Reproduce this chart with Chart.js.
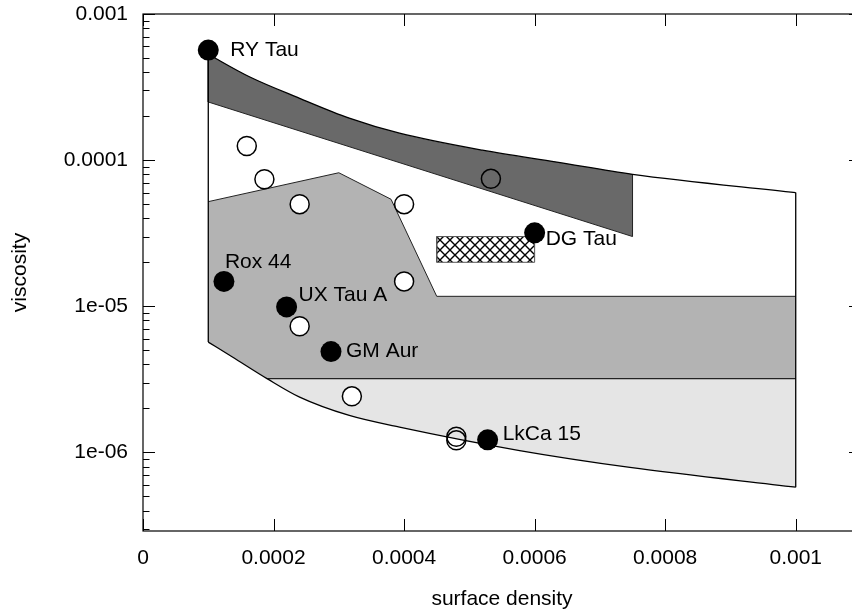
<!DOCTYPE html>
<html>
<head>
<meta charset="utf-8">
<script src="https://cdn.jsdelivr.net/npm/chart.js@4/dist/chart.umd.min.js"></script>
<style>
  html, body { margin: 0; padding: 0; background: #fff; overflow: hidden; }
  #wrap { width: 880px; height: 616px; }
</style>
</head>
<body>
<div id="wrap"><canvas id="chart" width="880" height="616"></canvas></div>
<script>
// ---- values ----
const xTicks = [0, 0.0002, 0.0004, 0.0006, 0.0008, 0.001];
const xTickLabels = ['0', '0.0002', '0.0004', '0.0006', '0.0008', '0.001'];
const yTicks = [1e-6, 1e-5, 1e-4, 1e-3];
const yTickLabels = ['1e-06', '1e-05', '0.0001', '0.001'];

// upper envelope of the allowed region
const upperX = [0.0001, 0.000163, 0.00024, 0.000316, 0.000393, 0.00052, 0.000634, 0.00075, 0.001];
const upperY = [5.3e-4, 3.72e-4, 2.65e-4, 1.94e-4, 1.53e-4, 1.17e-4, 9.7e-5, 8.0e-5, 6.0e-5];
// lower envelope
const lowerX = [0.0001, 0.000137, 0.00019, 0.00024, 0.000316, 0.000393, 0.000577, 0.000746, 0.001];
const lowerY = [5.69e-6, 4.5e-6, 3.2e-6, 2.39e-6, 1.79e-6, 1.49e-6, 1.03e-6, 7.9e-7, 5.78e-7];

// dark band corners (the upper envelope trims its top)
const bandX = [0.0001, 0.00075, 0.00075, 0.0001];
const bandY = [2.5e-4, 3.0e-5, 8.0e-5, 5.3e-4];

// medium grey region (closes along the lower envelope)
const midX = [0.0001, 0.0003, 0.00038, 0.00045, 0.001, 0.001, 0.00019, 0.0001];
const midY = [5.2e-5, 8.2e-5, 5.4e-5, 1.17e-5, 1.17e-5, 3.2e-6, 3.2e-6, 5.69e-6];

// light grey region (the lower envelope trims it)
const lightX = [0.00019, 0.001, 0.001, 0.00019];
const lightY = [3.2e-6, 3.2e-6, 5.78e-7, 5.78e-7];

// hatched box
const hatchX = [0.00045, 0.0006, 0.0006, 0.00045];
const hatchY = [2.0e-5, 2.0e-5, 3.0e-5, 3.0e-5];

// named objects (filled)
const starNames = ['RY Tau', 'Rox 44', 'UX Tau A', 'GM Aur', 'DG Tau', 'LkCa 15'];
const starX = [0.0001, 0.000124, 0.00022, 0.000288, 0.0006, 0.000528];
const starY = [5.66e-4, 1.48e-5, 9.9e-6, 4.9e-6, 3.18e-5, 1.22e-6];

// open circles
const openX = [0.000159, 0.000186, 0.00024, 0.0004, 0.0004, 0.00024, 0.00032];
const openY = [1.25e-4, 7.4e-5, 5.0e-5, 5.0e-5, 1.48e-5, 7.3e-6, 2.42e-6];
// open circles without fill
const hollowX = [0.000533, 0.00048, 0.00048];
const hollowY = [7.45e-5, 1.28e-6, 1.21e-6];

// label placement (pixels from the marker)
const labelOffsets = [[22, 0], [1, -19], [12, -12], [15, 0], [11, 6], [15, -6]];

const FONT = '"Liberation Sans", Arial, sans-serif';
const FSIZE = 21;

const pts = (xs, ys) => xs.map((x, i) => ({ x, y: ys[i] }));
const closed = arr => arr.concat([arr[0]]);

function makeHatch() {
  const n = 10;
  const c = document.createElement('canvas');
  c.width = n; c.height = n;
  const g = c.getContext('2d');
  g.fillStyle = '#fff';
  g.fillRect(0, 0, n, n);
  g.strokeStyle = '#000';
  g.lineWidth = 1.4;
  g.beginPath();
  g.moveTo(-1, -1); g.lineTo(n + 1, n + 1);
  g.moveTo(n + 1, -1); g.lineTo(-1, n + 1);
  g.stroke();
  return g.createPattern(c, 'repeat');
}

const region = (data, fill, border, width, order) => ({
  data, order,
  backgroundColor: fill,
  borderColor: border,
  borderWidth: width,
  fill: 'shape',
  pointRadius: 0,
  tension: 0
});

// smooth envelope; fills white on the outside to trim the grey shapes
const envelope = (data, side, order) => ({
  data, order,
  backgroundColor: '#fff',
  borderColor: '#000',
  borderWidth: 1.3,
  fill: side,
  pointRadius: 0,
  cubicInterpolationMode: 'monotone'
});

const edge = (data, color, width, order) => ({
  data, order,
  borderColor: color,
  borderWidth: width,
  fill: false,
  pointRadius: 0
});

// inward tick marks, frame and the object names
const decorPlugin = {
  id: 'decor',
  afterDatasetsDraw(chart) {
    const { ctx, chartArea: a, scales: { x, y } } = chart;
    ctx.save();
    ctx.strokeStyle = '#000';
    ctx.lineWidth = 1;
    ctx.beginPath();
    xTicks.forEach(v => {
      const px = Math.round(x.getPixelForValue(v)) + 0.5;
      ctx.moveTo(px, a.bottom); ctx.lineTo(px, a.bottom - 12);
      ctx.moveTo(px, a.top); ctx.lineTo(px, a.top + 12);
    });
    for (let e = -7; e <= -3; e++) {
      for (let m = 1; m <= 9; m++) {
        const v = m * Math.pow(10, e);
        if (v < y.min || v > y.max * 1.0001) continue;
        const len = m === 1 ? 12 : 6.5;
        const py = Math.round(y.getPixelForValue(v)) + 0.5;
        ctx.moveTo(a.left, py); ctx.lineTo(a.left + len, py);
        ctx.moveTo(a.right, py); ctx.lineTo(a.right - len, py);
      }
    }
    ctx.stroke();
    ctx.lineWidth = 1.2;
    ctx.strokeRect(a.left, a.top, a.right - a.left, a.bottom - a.top);

    ctx.fillStyle = '#000';
    ctx.font = FSIZE + 'px ' + FONT;
    ctx.textAlign = 'left';
    ctx.textBaseline = 'middle';
    starNames.forEach((name, i) => {
      const px = x.getPixelForValue(starX[i]) + labelOffsets[i][0];
      const py = y.getPixelForValue(starY[i]) + labelOffsets[i][1];
      ctx.fillText(name, px, py);
    });
    ctx.restore();
  }
};

const upper = pts(upperX, upperY);
const lower = pts(lowerX, lowerY);
const mid = pts(midX, midY);
const light = pts(lightX, lightY);

new Chart(document.getElementById('chart'), {
  type: 'line',
  data: {
    datasets: [
      region(closed(light), '#e5e5e5', 'rgba(0,0,0,0)', 0, 90),
      region(closed(mid), '#b3b3b3', 'rgba(0,0,0,0)', 0, 80),
      edge(mid.slice(0, 5), '#222', 1, 78),
      edge(light.slice(0, 2), '#222', 1.2, 78),
      region(closed(pts(bandX, bandY)), '#696969', '#222', 1, 70),
      envelope(upper, 'end', 60),
      envelope(lower, 'start', 55),
      edge([upper[0], lower[0]], '#000', 1.3, 50),
      edge([upper[upper.length - 1], lower[lower.length - 1]], '#000', 1.3, 50),
      region(closed(pts(hatchX, hatchY)), makeHatch(), '#555', 1, 40),
      {
        data: pts(openX, openY), order: 20, showLine: false,
        pointRadius: 9.5, pointBorderWidth: 1.5,
        pointBackgroundColor: '#fff', pointBorderColor: '#000'
      },
      {
        data: pts(hollowX, hollowY), order: 15, showLine: false,
        pointRadius: 9.5, pointBorderWidth: 1.5,
        pointBackgroundColor: 'rgba(0,0,0,0)', pointBorderColor: '#000'
      },
      {
        data: pts(starX, starY), order: 10, showLine: false,
        pointRadius: 10.5, pointBorderWidth: 0,
        pointBackgroundColor: '#000', pointBorderColor: '#000'
      }
    ]
  },
  options: {
    responsive: false,
    animation: false,
    events: [],
    layout: { padding: { top: 14, right: 19, left: 0, bottom: 0 } },
    plugins: { legend: { display: false }, tooltip: { enabled: false } },
    scales: {
      x: {
        type: 'linear',
        min: 0,
        max: 0.0011,
        afterFit: s => { s.height = 85; s.paddingLeft = 0; s.paddingRight = 0; },
        afterBuildTicks: s => { s.ticks = xTicks.map(v => ({ value: v })); },
        grid: { display: false, drawTicks: false },
        border: { display: false },
        ticks: {
          autoSkip: false, maxRotation: 0, padding: 15, color: '#000',
          font: { family: FONT, size: FSIZE },
          callback: v => xTickLabels[xTicks.indexOf(v)]
        },
        title: {
          display: true, text: 'surface density', color: '#000',
          font: { family: FONT, size: FSIZE },
          padding: { top: 0, bottom: 4 }
        }
      },
      y: {
        type: 'logarithmic',
        min: 2.9e-7,
        max: 1e-3,
        afterFit: s => { s.width = 143; s.paddingTop = 0; s.paddingBottom = 0; },
        afterBuildTicks: s => { s.ticks = yTicks.map(v => ({ value: v })); },
        grid: { display: false, drawTicks: false },
        border: { display: false },
        ticks: {
          autoSkip: false, padding: 15, color: '#000',
          font: { family: FONT, size: FSIZE },
          callback: v => yTickLabels[yTicks.indexOf(v)]
        },
        title: {
          display: true, text: 'viscosity', color: '#000',
          font: { family: FONT, size: FSIZE },
          padding: { top: 8, bottom: 0 }
        }
      }
    }
  },
  plugins: [decorPlugin]
});
</script>
</body>
</html>
